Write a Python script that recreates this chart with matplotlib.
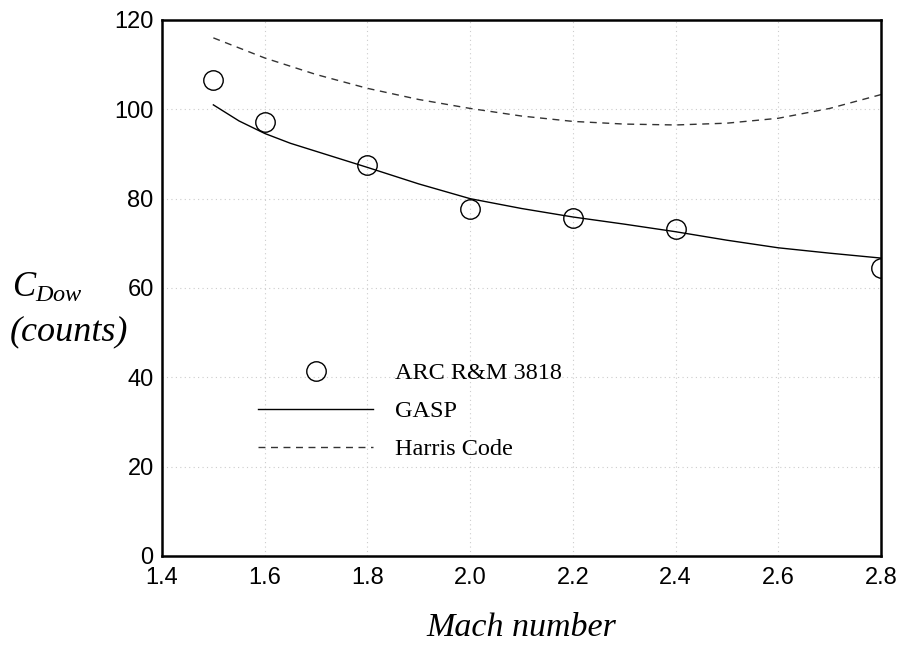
import matplotlib
matplotlib.use("Agg")
import matplotlib.pyplot as plt

plt.rcParams["font.family"] = ["Liberation Sans", "DejaVu Sans"]
plt.rcParams["mathtext.fontset"] = "custom"
plt.rcParams["mathtext.it"] = "Liberation Serif:italic"
plt.rcParams["mathtext.rm"] = "Liberation Serif"

mach_arc = [1.5, 1.6, 1.8, 2.0, 2.2, 2.4, 2.8]
cd_arc = [106.6, 97.2, 87.5, 77.7, 75.7, 73.2, 64.5]

mach_gasp = [1.5, 1.55, 1.6, 1.65, 1.7, 1.8, 1.9, 2.0, 2.1, 2.2, 2.3, 2.4,
             2.5, 2.6, 2.7, 2.8]
cd_gasp = [101.0, 97.4, 94.6, 92.4, 90.6, 87.0, 83.3, 80.0, 77.8, 75.9,
           74.3, 72.6, 70.7, 69.0, 67.8, 66.7]

mach_harris = [1.5, 1.6, 1.7, 1.8, 1.9, 2.0, 2.1, 2.2, 2.3, 2.4, 2.5, 2.6, 2.7, 2.8]
cd_harris = [116.0, 111.5, 107.8, 104.7, 102.2, 100.2, 98.5, 97.3, 96.7, 96.5, 96.9, 98.0, 100.2, 103.3]

xticks = [1.4, 1.6, 1.8, 2.0, 2.2, 2.4, 2.6, 2.8]
yticks = [0, 20, 40, 60, 80, 100, 120]

fig = plt.figure(figsize=(9.03, 6.45), dpi=100)
ax = fig.add_axes([162 / 903, 1 - 556 / 645, (881 - 162) / 903, (556 - 20) / 645])

ax.plot(mach_arc, cd_arc, "o", ms=14, mfc="none", mec="black", mew=1.0,
        label="ARC R&M 3818")
ax.plot(mach_gasp, cd_gasp, "-", color="black", lw=1.0, label="GASP")
ax.plot(mach_harris, cd_harris, color="#333333", lw=1.0, dashes=(5, 4),
        label="Harris Code")

ax.set_xlim(1.4, 2.8)
ax.set_ylim(0, 120)
ax.set_xticks(xticks)
ax.set_xticklabels(["%.1f" % v for v in xticks])
ax.set_yticks(yticks)
ax.tick_params(length=0, labelsize=17, pad=6)
ax.tick_params(axis="x", pad=8)
ax.grid(True, color="#cccccc", linestyle=(0, (1, 3)), lw=0.8)
for s in ax.spines.values():
    s.set_linewidth(1.8)
ax.set_axisbelow(True)

ax.set_xlabel("Mach number", fontsize=24.5, family="Liberation Serif",
              style="italic", labelpad=17)

fig.text(12 / 903, 1 - 297 / 645, r"$C_{Dow}$", fontsize=25, ha="left",
         va="baseline")
fig.text(10 / 903, 1 - 340 / 645, "(counts)", fontsize=26,
         family="Liberation Serif", style="italic", ha="left", va="baseline")

leg = ax.legend(loc="upper left", bbox_to_anchor=(258 / 903, 1 - 362 / 645),
                bbox_transform=fig.transFigure, frameon=False, numpoints=1,
                prop={"family": "Liberation Serif", "size": 17.5},
                handlelength=4.75, handletextpad=0.9, labelspacing=0.66,
                borderpad=0, borderaxespad=0)

fig.savefig("out.png", dpi=100)
